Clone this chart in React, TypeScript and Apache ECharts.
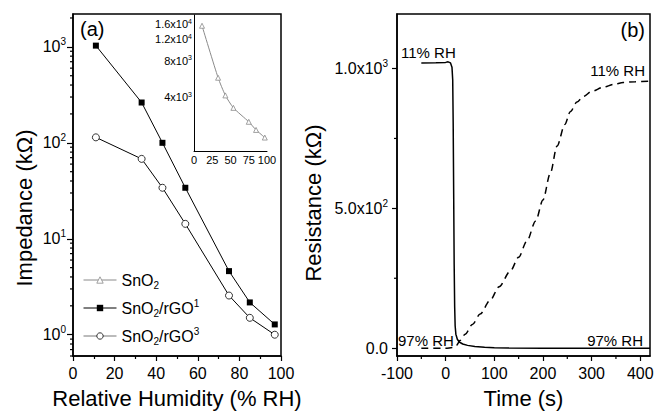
import React, { useEffect, useRef } from 'react';
import * as echarts from 'echarts';

// ---------- data ----------
const humidity = [11, 33, 43, 54, 75, 85, 97];
const impSnO2 = [15500, 5800, 4150, 3280, 2520, 2160, 1870];
const impRGO1 = [1030, 263, 100, 34, 4.6, 2.17, 1.28];
const impRGO3 = [114, 68, 34, 14.3, 2.56, 1.5, 1.0];

const solidTime = [-50, -20, 0, 5, 10, 13, 14.5, 15.5, 16.5, 17.5, 18.5, 19.5, 21, 24, 28, 35, 45, 60, 80, 100, 130, 200, 420];
const solidRes = [1020, 1021, 1022, 1024, 1020, 1005, 960, 800, 550, 300, 150, 80, 50, 32, 22, 15, 10, 6, 3, 1.5, 0.5, 0, 0];
const dashTime = [-50, 0, 15, 22, 30, 40, 55, 71, 91, 110, 133, 150, 167, 185, 200, 215, 229, 245, 256, 270, 283, 300, 324, 345, 365, 390, 420];
const dashRes = [0, 0, 2, 10, 28, 50, 85, 122, 170, 220, 276, 325, 383, 455, 530, 625, 723, 800, 845, 880, 900, 918, 933, 943, 950, 953, 955];

const impDecades = [0, 1, 2, 3];
const impMinorTicks = [0.6, 0.7, 0.8, 0.9, 2, 3, 4, 5, 6, 7, 8, 9, 20, 30, 40, 50, 60, 70, 80, 90, 200, 300, 400, 500, 600, 700, 800, 900, 2000];
const insetXTicks = [0, 25, 50, 75, 100];
const insetYTicks = [4000, 8000, 12000, 16000];
const insetYLabels = ['4x10{sup|3}', '8x10{sup|3}', '1.2x10{sup|4}', '1.6x10{sup|4}'];
const timeTicks = [-100, 0, 100, 200, 300, 400];
const timeMinorTicks = [-50, 50, 150, 250, 350];
const resTicks = [0, 500, 1000];
const resLabels = ['0.0', '5.0x10{sup|2}', '1.0x10{sup|3}'];
const resMinorTicks = [250, 750];

const FONT = '"Liberation Sans", Arial, Helvetica, sans-serif';
const lg = (v: number) => Math.log10(v);

const A_YMIN = lg(0.6), A_YMAX = lg(2200);
const B_XMIN = -100, B_XMAX = 420, B_YMIN = -28, B_YMAX = 1195;
const I_YMIN = lg(1450), I_YMAX = lg(19000);

function minorSeries(name: string, xi: number, yi: number, data: number[][], dir: 'x' | 'y', len: number) {
  return {
    type: 'custom', name, xAxisIndex: xi, yAxisIndex: yi, silent: true, clip: false,
    data,
    renderItem: (params: any, api: any) => {
      const p = api.coord([api.value(0), api.value(1)]);
      const shape = dir === 'x'
        ? { x1: p[0], y1: p[1], x2: p[0], y2: p[1] + len }
        : { x1: p[0] - len, y1: p[1], x2: p[0], y2: p[1] };
      return { type: 'line', shape, style: { stroke: '#000', lineWidth: 1.2 } };
    },
  };
}

const axisLineStyle = { onZero: false, lineStyle: { color: '#000', width: 1.5 } };
const insetAxisLine = { onZero: false, lineStyle: { color: '#000', width: 1 } };
const supRich = { sup: { fontSize: 10, lineHeight: 10, verticalAlign: 'top', fontFamily: FONT, color: '#000' } };

export default function App() {
  const ref = useRef<HTMLDivElement>(null);
  useEffect(() => {
    if (!ref.current) return;
    const chart = echarts.init(ref.current, null, { renderer: 'svg' });
    const option: any = {
      animation: false,
      backgroundColor: '#fff',
      textStyle: { fontFamily: FONT, color: '#000' },
      grid: [
        { left: 73, top: 14, width: 208, height: 345, show: true, borderColor: '#000', borderWidth: 1.5, backgroundColor: 'transparent' },
        { left: 397, top: 14, width: 253, height: 345, show: true, borderColor: '#000', borderWidth: 1.5, backgroundColor: 'transparent' },
        { left: 194, top: 15, width: 73, height: 136, show: false },
      ],
      xAxis: [
        {
          gridIndex: 0, type: 'value', min: 0, max: 100, interval: 20,
          axisLine: axisLineStyle,
          axisTick: { show: true, inside: false, length: 5, lineStyle: { color: '#000', width: 1.2 } },
          minorTick: { show: true, splitNumber: 2, length: 3, lineStyle: { color: '#000', width: 1.2 } },
          axisLabel: { fontSize: 16, margin: 9, color: '#000', fontFamily: FONT },
          splitLine: { show: false },
          name: 'Relative Humidity (% RH)', nameLocation: 'middle', nameGap: 31,
          nameTextStyle: { fontSize: 22, color: '#000', fontFamily: FONT },
        },
        {
          gridIndex: 1, type: 'value', min: B_XMIN, max: B_XMAX,
          axisLine: axisLineStyle,
          axisTick: { show: true, inside: false, length: 5, customValues: timeTicks, lineStyle: { color: '#000', width: 1.2 } },
          axisLabel: { fontSize: 16, margin: 9, color: '#000', fontFamily: FONT, customValues: timeTicks },
          splitLine: { show: false },
          name: 'Time (s)', nameLocation: 'middle', nameGap: 31,
          nameTextStyle: { fontSize: 22, color: '#000', fontFamily: FONT },
        },
        {
          gridIndex: 2, type: 'value', min: 0, max: 100,
          axisLine: insetAxisLine,
          axisTick: { show: false },
          axisLabel: { fontSize: 11, margin: 3, color: '#000', fontFamily: FONT, customValues: insetXTicks },
          splitLine: { show: false },
        },
      ],
      yAxis: [
        {
          gridIndex: 0, type: 'value', min: A_YMIN, max: A_YMAX,
          axisLine: axisLineStyle,
          axisTick: { show: true, inside: false, length: 6, customValues: impDecades, lineStyle: { color: '#000', width: 1.2 } },
          axisLabel: {
            fontSize: 16, lineHeight: 20, margin: 7, color: '#000', fontFamily: FONT, customValues: impDecades,
            formatter: (v: number) => '10{sup|' + Math.round(v) + '}', rich: supRich,
          },
          splitLine: { show: false },
        },
        {
          gridIndex: 1, type: 'value', min: B_YMIN, max: B_YMAX,
          axisLine: axisLineStyle,
          axisTick: { show: true, inside: false, length: 5, customValues: resTicks, lineStyle: { color: '#000', width: 1.2 } },
          axisLabel: {
            fontSize: 16, lineHeight: 20, margin: 9, color: '#000', fontFamily: FONT, customValues: resTicks,
            formatter: (v: number) => {
              const i = resTicks.findIndex((t) => Math.abs(t - v) < 1e-6);
              return i >= 0 ? resLabels[i] : '';
            },
            rich: supRich,
          },
          splitLine: { show: false },
        },
        {
          gridIndex: 2, type: 'value', min: I_YMIN, max: I_YMAX,
          axisLine: insetAxisLine,
          axisTick: { show: false },
          axisLabel: {
            fontSize: 11, lineHeight: 13, margin: 2, color: '#000', fontFamily: FONT,
            customValues: insetYTicks.map(lg),
            formatter: (v: number) => {
              const i = insetYTicks.findIndex((t) => Math.abs(lg(t) - v) < 1e-6);
              return i >= 0 ? insetYLabels[i] : '';
            },
            rich: { sup: { fontSize: 7, lineHeight: 7, verticalAlign: 'top', fontFamily: FONT, color: '#000' } },
          },
          splitLine: { show: false },
        },
      ],
      legend: {
        orient: 'vertical', left: 78, top: 265,
        data: [
          { name: 'SnO2', itemStyle: { color: '#fff', borderColor: '#8a8a8a', borderWidth: 0.8 }, lineStyle: { color: '#8a8a8a', width: 1 } },
          { name: 'SnO2/rGO1', itemStyle: { color: '#000', borderWidth: 0 }, lineStyle: { color: '#000', width: 1 } },
          { name: 'SnO2/rGO3', itemStyle: { color: '#fff', borderColor: '#000', borderWidth: 0.8 }, lineStyle: { color: '#777', width: 1 } },
        ],
        itemWidth: 33, itemHeight: 8, itemGap: 8,
        textStyle: {
          fontSize: 16, lineHeight: 20, color: '#000', fontFamily: FONT,
          rich: {
            sub: { fontSize: 10, lineHeight: 10, verticalAlign: 'bottom', fontFamily: FONT, color: '#000' },
            sup: { fontSize: 10, lineHeight: 10, verticalAlign: 'top', fontFamily: FONT, color: '#000' },
          },
        },
        formatter: (name: string) => {
          if (name === 'SnO2') return 'SnO{sub|2}';
          if (name === 'SnO2/rGO1') return 'SnO{sub|2}/rGO{sup|1}';
          return 'SnO{sub|2}/rGO{sup|3}';
        },
      },
      series: [
        {
          name: 'SnO2', type: 'line', xAxisIndex: 2, yAxisIndex: 2,
          data: humidity.map((h, i) => [h, lg(impSnO2[i])]),
          symbol: 'triangle', symbolSize: 5, smooth: 0.2,
          lineStyle: { color: '#8a8a8a', width: 1 },
          itemStyle: { color: '#fff', borderColor: '#8a8a8a', borderWidth: 0.8 },
        },
        {
          name: 'SnO2/rGO1', type: 'line', xAxisIndex: 0, yAxisIndex: 0,
          data: humidity.map((h, i) => [h, lg(impRGO1[i])]),
          symbol: 'rect', symbolSize: 6,
          lineStyle: { color: '#000', width: 1 },
          itemStyle: { color: '#000' },
        },
        {
          name: 'SnO2/rGO3', type: 'line', xAxisIndex: 0, yAxisIndex: 0,
          data: humidity.map((h, i) => [h, lg(impRGO3[i])]),
          symbol: 'circle', symbolSize: 7,
          lineStyle: { color: '#000', width: 1 },
          itemStyle: { color: '#fff', borderColor: '#000', borderWidth: 0.8 },
        },
        {
          name: 'desorption', type: 'line', xAxisIndex: 1, yAxisIndex: 1,
          data: solidTime.map((t, i) => [t, solidRes[i]]),
          showSymbol: false, symbol: 'none',
          lineStyle: { color: '#000', width: 1.5 },
        },
        {
          name: 'adsorption', type: 'line', xAxisIndex: 1, yAxisIndex: 1,
          data: dashTime.map((t, i) => [t, dashRes[i]]),
          showSymbol: false, symbol: 'none', smooth: 0.3, smoothMonotone: 'x',
          lineStyle: { color: '#000', width: 1.5, type: [7, 5] },
        },
        minorSeries('minorAy', 0, 0, impMinorTicks.map((v) => [0, lg(v)]), 'y', 3),
        minorSeries('minorBx', 1, 1, timeMinorTicks.map((v) => [v, B_YMIN]), 'x', 3),
        minorSeries('minorBy', 1, 1, resMinorTicks.map((v) => [B_XMIN, v]), 'y', 3),
      ],
      graphic: [
        { type: 'text', x: 80, y: 29, style: { text: '(a)', fontSize: 20, fontFamily: FONT, fill: '#000', align: 'left', verticalAlign: 'middle' } },
        { type: 'text', x: 645, y: 30, style: { text: '(b)', fontSize: 20, fontFamily: FONT, fill: '#000', align: 'right', verticalAlign: 'middle' } },
        { type: 'text', x: 401, y: 52, style: { text: '11% RH', fontSize: 15, fontFamily: FONT, fill: '#000', align: 'left', verticalAlign: 'middle' } },
        { type: 'text', x: 645, y: 70, style: { text: '11% RH', fontSize: 15, fontFamily: FONT, fill: '#000', align: 'right', verticalAlign: 'middle' } },
        { type: 'text', x: 398, y: 340, style: { text: '97% RH', fontSize: 15, fontFamily: FONT, fill: '#000', align: 'left', verticalAlign: 'middle' } },
        { type: 'text', x: 643, y: 340, style: { text: '97% RH', fontSize: 15, fontFamily: FONT, fill: '#000', align: 'right', verticalAlign: 'middle' } },
        { type: 'text', x: 24, y: 208, rotation: Math.PI / 2, style: { text: 'Impedance (kΩ)', fontSize: 22, fontFamily: FONT, fill: '#000', align: 'center', verticalAlign: 'middle' } },
        { type: 'text', x: 313, y: 203, rotation: Math.PI / 2, style: { text: 'Resistance (kΩ)', fontSize: 22, fontFamily: FONT, fill: '#000', align: 'center', verticalAlign: 'middle' } },
      ],
    };
    chart.setOption(option);
    return () => chart.dispose();
  }, []);
  return <div ref={ref} style={{ width: 657, height: 414, position: 'absolute', left: 0, top: 0 }} />;
}
